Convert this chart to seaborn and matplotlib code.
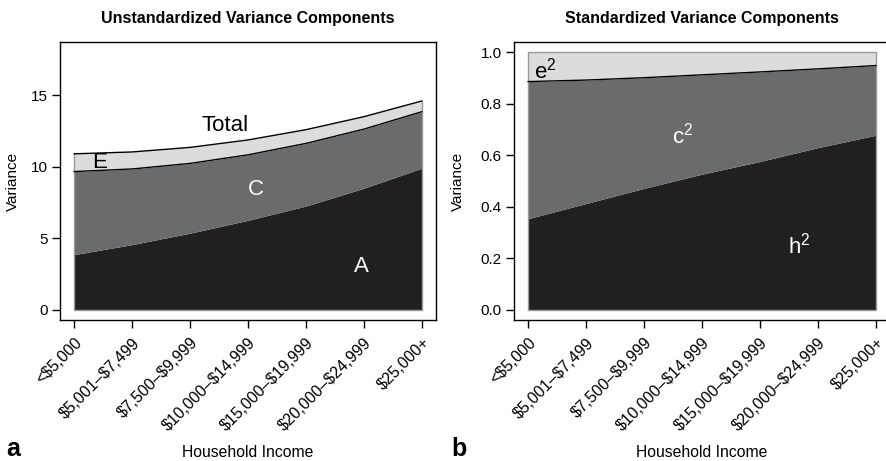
import numpy as np
import matplotlib
matplotlib.use("Agg")
import matplotlib.pyplot as plt
import seaborn as sns

# Household income brackets (x axis)
income = ["<$5,000", "$5,001\u2013$7,499", "$7,500\u2013$9,999", "$10,000\u2013$14,999",
          "$15,000\u2013$19,999", "$20,000\u2013$24,999", "$25,000+"]

# Unstandardized variance components per income bracket
var_A = [3.85, 4.55, 5.35, 6.25, 7.25, 8.50, 9.90]
var_C = [5.81, 5.29, 4.88, 4.58, 4.38, 4.13, 3.95]
var_E = [1.24, 1.19, 1.12, 1.04, 0.96, 0.87, 0.75]

y_ticks_unstd = [0, 5, 10, 15]
y_ticks_std = [0.0, 0.2, 0.4, 0.6, 0.8, 1.0]

sns.set_theme(style="ticks")
plt.rcParams["font.family"] = ["Liberation Sans", "DejaVu Sans"]
plt.rcParams["text.color"] = "black"
plt.rcParams["axes.labelcolor"] = "black"

COL_A = "#221f20"
COL_C = "#6a6b6d"
COL_E = "#dcdcdd"
EDGE = "#9a9a9a"

A = np.array(var_A)
C = np.array(var_C)
E = np.array(var_E)
total = A + C + E
x = np.arange(len(income))

fig = plt.figure(figsize=(8.86, 4.61), dpi=100)
W, H = 886, 461


def px_axes(left, top, right, bottom):
    return fig.add_axes([left / W, 1 - bottom / H, (right - left) / W, (bottom - top) / H])


ax1 = px_axes(60, 42, 436, 320)
ax2 = px_axes(514, 42, 890, 320)


def style_axes(ax, yticks, fmt):
    for s in ax.spines.values():
        s.set_visible(True)
        s.set_color("black")
        s.set_linewidth(1.0)
    ax.set_xlim(-0.24, 6.24)
    ax.set_xticks(x)
    # dollar signs are literal here, not math delimiters
    ax.set_xticklabels([lab.replace("$", r"\$") for lab in income], rotation=45,
                       ha="right", va="top", rotation_mode="anchor", fontsize=11.5)
    ax.set_yticks(yticks)
    ax.set_yticklabels([fmt(v) for v in yticks], fontsize=11)
    ax.tick_params(axis="both", direction="out", length=6, width=1.0,
                   color="black", labelcolor="black", pad=3)
    ax.tick_params(axis="x", pad=5)
    ax.set_xlabel("")
    ax.set_ylabel("")
    ax.grid(False)


# Panel a: stacked unstandardized components
lower_C = A
upper_C = A + C
ax1.fill_between(x, 0, A, color=COL_A, lw=0)
ax1.fill_between(x, lower_C, upper_C, color=COL_C, lw=0)
ax1.fill_between(x, upper_C, total, color=COL_E, lw=0)
ax1.plot([x[0], x[0], x[-1], x[-1]], [total[0], 0, 0, total[-1]], color=EDGE, lw=1.0)
sns.lineplot(x=x, y=upper_C, color="black", lw=1.0, ax=ax1)
sns.lineplot(x=x, y=total, color="black", lw=1.0, ax=ax1)
ax1.set_ylim(-0.72, 18.72)
style_axes(ax1, y_ticks_unstd, lambda v: f"{v:d}")

LAB = 16
ax1.text(2.6, 12.85, "Total", ha="center", va="center", fontsize=LAB, color="black")
ax1.text(0.44, 10.3, "E", ha="center", va="center", fontsize=LAB, color="black")
ax1.text(3.14, 8.43, "C", ha="center", va="center", fontsize=LAB, color="white")
ax1.text(4.95, 3.03, "A", ha="center", va="center", fontsize=LAB, color="white")

# Panel b: proportions of total variance
h2 = A / total
c2 = C / total
hc = h2 + c2
ax2.fill_between(x, 0, h2, color=COL_A, lw=0)
ax2.fill_between(x, h2, hc, color=COL_C, lw=0)
ax2.fill_between(x, hc, 1.0, color=COL_E, lw=0)
ax2.plot([x[0], x[0], x[-1], x[-1], x[0]], [0, 1, 1, 0, 0], color=EDGE, lw=1.0)
sns.lineplot(x=x, y=hc, color="black", lw=1.0, ax=ax2)
ax2.set_ylim(-0.04, 1.04)
style_axes(ax2, y_ticks_std, lambda v: f"{v:.1f}")

ax2.text(0.3, 0.93, r"$\mathregular{e^2}$", ha="center", va="center", fontsize=LAB, color="black")
ax2.text(2.67, 0.675, r"$\mathregular{c^2}$", ha="center", va="center", fontsize=LAB, color="white")
ax2.text(4.67, 0.25, r"$\mathregular{h^2}$", ha="center", va="center", fontsize=LAB, color="white")

# Titles, axis labels and panel letters
for ax, title, xc, ylab_x, letter, letter_x in [
    (ax1, "Unstandardized Variance Components", 248, 13, "a", 13),
    (ax2, "Standardized Variance Components", 702, 458, "b", 459),
]:
    fig.text(xc / W, 1 - 19 / H, title, ha="center", va="center",
             fontsize=11.5, fontweight="bold")
    fig.text(ylab_x / W, 1 - 181 / H, "Variance", ha="center", va="center",
             rotation=90, fontsize=11)
    fig.text(xc / W, 1 - 457 / H, "Household Income", ha="center", va="baseline",
             fontsize=11.3)
    fig.text(letter_x / W, 1 - 456 / H, letter, ha="center", va="baseline",
             fontsize=18, fontweight="bold")

fig.savefig("out.png", dpi=100)
